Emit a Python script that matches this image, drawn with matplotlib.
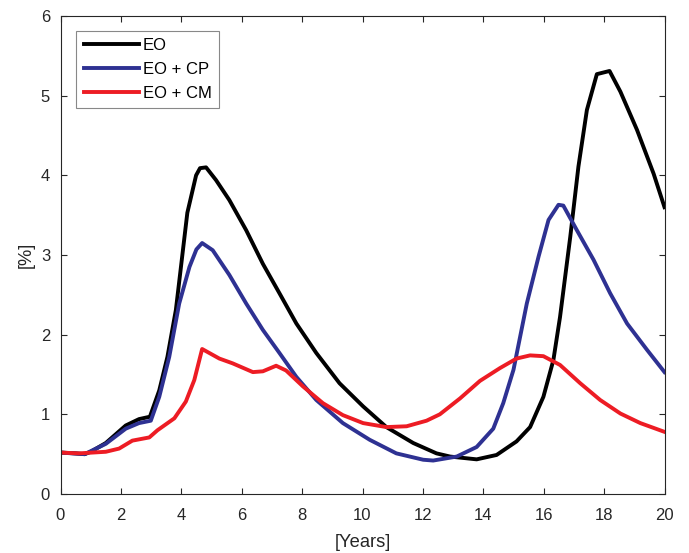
import matplotlib
matplotlib.use('Agg')
import matplotlib.pyplot as plt

# simulated prevalence, three scenarios
years_eo = [0, 0.5, 0.8, 1.0, 1.5, 2.16, 2.6, 2.96, 3.27, 3.54, 3.82, 4.2, 4.49, 4.62,
            4.82, 5.15, 5.59, 6.15, 6.7, 7.25, 7.81, 8.47, 9.24, 10.02, 10.79, 11.68,
            12.45, 12.9, 13.78, 14.44, 15.1, 15.55, 15.99, 16.32, 16.54, 16.88, 17.15,
            17.43, 17.76, 18.18, 18.54, 19.09, 19.64, 20]
eo = [0.52, 0.51, 0.50, 0.53, 0.64, 0.86, 0.94, 0.97, 1.30, 1.72, 2.31, 3.53, 4.0, 4.09,
      4.10, 3.94, 3.69, 3.31, 2.89, 2.52, 2.14, 1.77, 1.39, 1.10, 0.84, 0.64,
      0.51, 0.47, 0.435, 0.49, 0.66, 0.84, 1.22, 1.68, 2.22, 3.23, 4.11,
      4.82, 5.27, 5.31, 5.05, 4.57, 4.02, 3.6]

years_cp = [0, 0.8, 1.5, 2.16, 2.6, 2.99, 3.27, 3.6, 3.93, 4.27, 4.5, 4.69, 5.04, 5.59,
            6.15, 6.7, 7.25, 7.81, 8.47, 9.35, 10.24, 11.12, 12.01, 12.34, 13.12, 13.78,
            14.33, 14.66, 15.0, 15.44, 15.83, 16.16, 16.49, 16.65, 17.1, 17.65, 18.2,
            18.76, 19.42, 20]
eo_cp = [0.52, 0.50, 0.63, 0.82, 0.89, 0.92, 1.22, 1.72, 2.39, 2.85, 3.07, 3.15, 3.06, 2.75,
         2.39, 2.06, 1.77, 1.47, 1.18, 0.89, 0.68, 0.51, 0.43, 0.42, 0.47, 0.59,
         0.82, 1.14, 1.56, 2.39, 2.98, 3.44, 3.63, 3.62, 3.31, 2.94, 2.52,
         2.14, 1.81, 1.53]

years_cm = [0, 0.61, 1.5, 1.94, 2.38, 2.94, 3.21, 3.77, 4.15, 4.43, 4.69, 5.26, 5.7, 6.37,
            6.7, 7.14, 7.47, 8.03, 8.69, 9.35, 10.02, 10.79, 11.46, 12.12, 12.56, 13.23,
            13.89, 14.55, 15.1, 15.55, 15.99, 16.54, 17.21, 17.87, 18.54, 19.2, 20]
eo_cm = [0.52, 0.51, 0.53, 0.57, 0.67, 0.71, 0.80, 0.95, 1.16, 1.43, 1.82, 1.70, 1.64, 1.53,
         1.54, 1.61, 1.55, 1.35, 1.14, 0.99, 0.89, 0.84, 0.85, 0.92, 1.0, 1.20,
         1.42, 1.58, 1.70, 1.74, 1.73, 1.62, 1.39, 1.18, 1.01, 0.89, 0.78]

labels = ['EO', 'EO + CP', 'EO + CM']

plt.rcParams['font.family'] = ['Liberation Sans', 'DejaVu Sans']
axcol = '#262626'

fig = plt.figure(figsize=(6.89, 5.53), dpi=100)
ax = fig.add_axes([60.5 / 689, 59 / 553, 604 / 689, 478 / 553])

ax.plot(years_eo, eo, color='black', lw=2.8, label=labels[0])
ax.plot(years_cp, eo_cp, color='#2e3192', lw=2.8, label=labels[1])
ax.plot(years_cm, eo_cm, color='#ed1c24', lw=2.8, label=labels[2])

ax.set_xlim(0, 20)
ax.set_ylim(0, 6)
ax.set_xticks(range(0, 21, 2))
ax.set_yticks(range(0, 7))
ax.tick_params(direction='in', length=4.3, width=0.8, top=True, right=True,
               labelsize=12, colors=axcol)
ax.tick_params(axis='x', pad=10)
ax.tick_params(axis='y', pad=7.5)
for s in ax.spines.values():
    s.set_color(axcol)
    s.set_linewidth(0.8)

ax.set_xlabel('[Years]', fontsize=13.2, color=axcol, labelpad=8)
ax.set_ylabel('[%]', fontsize=13.2, color=axcol, labelpad=4)

leg = ax.legend(loc='upper left', bbox_to_anchor=(0.0257, 0.969), borderaxespad=0,
                fontsize=12, handlelength=3.35, handletextpad=0.2, labelspacing=0.52,
                borderpad=0.45, fancybox=False, framealpha=1, edgecolor='#888888')
leg.get_frame().set_linewidth(0.8)

fig.savefig('out.png', dpi=100)
